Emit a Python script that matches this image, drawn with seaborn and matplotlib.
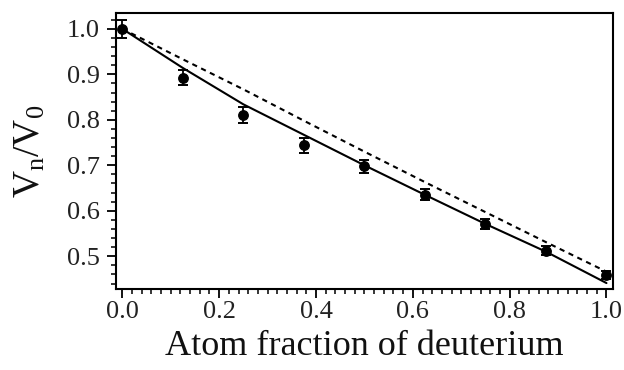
import matplotlib
matplotlib.use("Agg")
import matplotlib.pyplot as plt
import seaborn as sns
import pandas as pd
from matplotlib.ticker import MultipleLocator

# Data
x_frac = [0.0, 0.125, 0.25, 0.375, 0.5, 0.625, 0.75, 0.875, 1.0]
v_meas = [1.000, 0.893, 0.811, 0.744, 0.698, 0.635, 0.571, 0.512, 0.459]
v_err = [0.020, 0.017, 0.017, 0.017, 0.014, 0.012, 0.011, 0.010, 0.008]
v_solid = [1.000, 0.914, 0.834, 0.767, 0.700, 0.635, 0.571, 0.510, 0.441]
v_dashed = [1.000, 0.933, 0.867, 0.798, 0.730, 0.663, 0.597, 0.531, 0.466]
xticks = [0.0, 0.2, 0.4, 0.6, 0.8, 1.0]
yticks = [0.5, 0.6, 0.7, 0.8, 0.9, 1.0]

sns.set_style("ticks")
plt.rcParams['font.family'] = ['Liberation Serif', 'DejaVu Serif']
plt.rcParams['mathtext.fontset'] = 'custom'
plt.rcParams['mathtext.rm'] = 'Liberation Serif'
plt.rcParams['mathtext.it'] = 'Liberation Serif:italic'

df = pd.DataFrame({"x": x_frac, "meas": v_meas, "err": v_err,
                   "solid": v_solid, "dashed": v_dashed})

fig = plt.figure(figsize=(6.24, 3.70), dpi=100)
ax = fig.add_axes([0.186, 0.219, 0.796, 0.746])

sns.lineplot(data=df, x="x", y="solid", ax=ax, color="black", lw=1.5)
sns.lineplot(data=df, x="x", y="dashed", ax=ax, color="black", lw=1.5,
             linestyle=(0, (2.5, 2.2)))
ax.errorbar(df["x"], df["meas"], yerr=df["err"], fmt="o", color="black",
            ms=6.8, capsize=3.5, elinewidth=1.3, capthick=1.4, zorder=5)

ax.set_xlim(-0.013, 1.013)
ax.set_ylim(0.428, 1.035)
ax.set_xticks(xticks)
ax.set_xticklabels([f"{t:.1f}" for t in xticks])
ax.set_yticks(yticks)
ax.set_yticklabels([f"{t:.1f}" for t in yticks])
ax.xaxis.set_minor_locator(MultipleLocator(0.02))
ax.yaxis.set_minor_locator(MultipleLocator(0.02))

for s in ax.spines.values():
    s.set_visible(True)
    s.set_linewidth(1.5)
    s.set_color("black")

ax.tick_params(axis="both", which="major", direction="out", length=6.5,
               width=1.3, labelsize=19, color="black", labelcolor="#222222")
ax.tick_params(axis="both", which="minor", direction="out", length=3.6,
               width=1.1, color="black")
ax.tick_params(axis="x", which="major", pad=2.5)
ax.tick_params(axis="y", which="major", pad=5)
ax.tick_params(top=False, right=False, which="both")

ax.set_xlabel("Atom fraction of deuterium", fontsize=26, color="#111111")
ax.set_ylabel(r"V$_{\mathrm{n}}$/V$_{\mathrm{0}}$", fontsize=27, color="#111111")
ax.xaxis.set_label_coords(0.5, -0.149)
ax.yaxis.set_label_coords(-0.137, 0.5)

fig.savefig("out.png", dpi=100)
